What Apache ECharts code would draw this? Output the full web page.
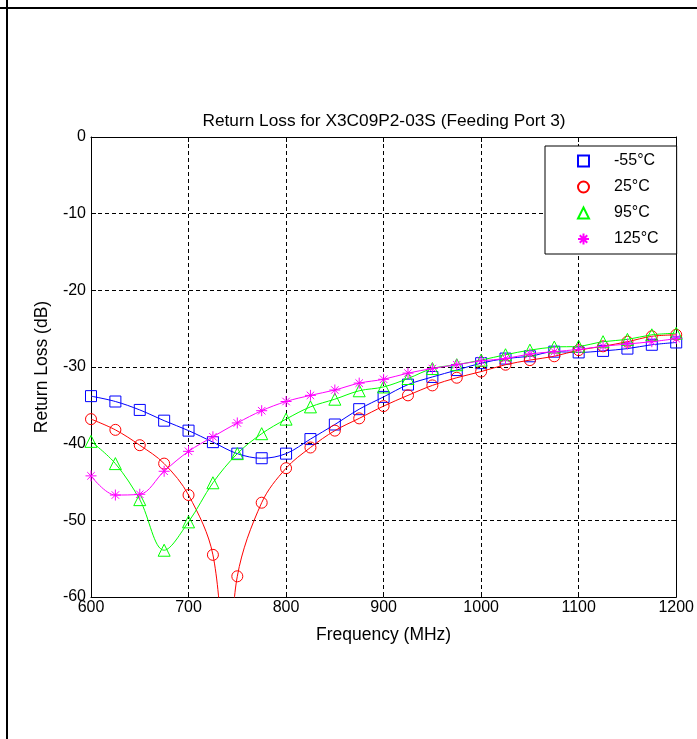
<!DOCTYPE html>
<html><head><meta charset="utf-8">
<script src="https://cdn.jsdelivr.net/npm/echarts@6/dist/echarts.min.js"></script>
<style>html,body{margin:0;padding:0;background:#fff;overflow:hidden}#c{width:697px;height:739px}</style>
</head><body><div id="c"></div>
<script>
// ---- data ----
const freqs = [600,625,650,675,700,725,750,775,800,825,850,875,900,925,950,975,1000,1025,1050,1075,1100,1125,1150,1175,1200];
const seriesNames = ['-55°C','25°C','95°C','125°C'];
const valsM55 = [-33.8,-34.5,-35.6,-37.0,-38.3,-39.8,-41.3,-41.9,-41.3,-39.4,-37.5,-35.5,-33.9,-32.3,-31.3,-30.4,-29.5,-28.9,-28.6,-28.0,-28.1,-27.9,-27.6,-27.1,-26.8];
const vals25  = [-36.8,-38.2,-40.2,-42.6,-46.7,-54.5,-57.3,-47.7,-43.2,-40.5,-38.3,-36.7,-35.1,-33.7,-32.4,-31.4,-30.6,-29.7,-29.1,-28.6,-27.8,-27.3,-26.7,-26.0,-25.8];
const vals95  = [-39.7,-42.6,-47.3,-53.9,-50.2,-45.1,-41.3,-38.7,-36.8,-35.2,-34.2,-33.1,-32.6,-31.5,-30.2,-29.7,-29.1,-28.4,-27.8,-27.4,-27.3,-26.7,-26.4,-25.8,-25.6];
const vals125 = [-44.2,-46.7,-46.6,-43.6,-41.0,-39.1,-37.3,-35.7,-34.5,-33.7,-33.0,-32.1,-31.6,-30.8,-30.2,-29.7,-29.2,-28.9,-28.3,-28.0,-27.7,-27.3,-27.0,-26.7,-26.3];
// estimated bottom of the 25°C curve, which runs below the -60 dB axis limit (clipped)
const dip25 = [[740, -72]];
const xMin = 600, xMax = 1200, xStep = 100;
const yMin = -60, yMax = 0, yStep = 10;

const colors = ['#0000ff','#ff0000','#00ff00','#ff00ff'];
const asterisk = 'path://M5,0 L5,10 M0,5 L10,5 M1.6,1.6 L8.4,8.4 M1.6,8.4 L8.4,1.6';
const symbols = ['rect','circle','triangle',asterisk];
const symSizes = [11,11,12,11];

function pts(vals, extra){
  const d = freqs.map((f,i)=>[f, vals[i]]);
  (extra||[]).forEach(p=>d.push({value:p, symbol:'none'}));
  d.sort((a,b)=>(a.value||a)[0]-(b.value||b)[0]);
  return d;
}
const allVals = [valsM55, vals25, vals95, vals125];
const extras = [null, dip25, null, null];

const series = allVals.map((v,i)=>({
  name: seriesNames[i],
  type: 'line',
  data: pts(v, extras[i]),
  smooth: 0.35,
  symbol: symbols[i],
  symbolSize: symSizes[i],
  showAllSymbol: true,
  clip: true,
  lineStyle: {color: colors[i], width: 1},
  itemStyle: {color: 'rgba(0,0,0,0)', borderColor: colors[i], borderWidth: 1},
  emphasis: {disabled: true},
  z: 3 + i
}));

const font = 'Arial, "Liberation Sans", sans-serif';
const axisCommon = {
  type: 'value',
  axisLine: {show: true, onZero: false, lineStyle: {color: '#000', width: 1}},
  axisTick: {show: true, inside: true, length: 5, lineStyle: {color: '#000'}},
};

const chart = echarts.init(document.getElementById('c'), null, {renderer: 'canvas', width: 697, height: 739});
chart.setOption({
  backgroundColor: '#fff',
  animation: false,
  title: {
    text: 'Return Loss for X3C09P2-03S (Feeding Port 3)',
    left: 379, top: 108, textAlign: 'center',
    textStyle: {fontFamily: font, fontSize: 17.3, fontWeight: 'normal', color: '#000'}
  },
  legend: {
    orient: 'vertical',
    left: 545, top: 146,
    padding: [7, 18, 7, 32],
    itemWidth: 11, itemHeight: 11, itemGap: 10,
    borderColor: '#000', borderWidth: 1, backgroundColor: '#fff',
    data: seriesNames.map((n,i)=>({name: n, icon: symbols[i]})),
    textStyle: {fontFamily: font, fontSize: 16, color: '#000', padding: [0,0,0,20]},
    selectedMode: false
  },
  grid: {left: 91, top: 137, width: 590, height: 460, containLabel: false},
  xAxis: [
    Object.assign({}, axisCommon, {
      min: xMin, max: xMax, interval: xStep, position: 'bottom',
      name: 'Frequency (MHz)', nameLocation: 'middle', nameGap: 29,
      nameTextStyle: {fontFamily: font, fontSize: 17.5, color: '#000'},
      axisLabel: {fontFamily: font, fontSize: 16, color: '#000', margin: 3, formatter: v => String(v)},
      splitLine: {show: true, lineStyle: {color: '#000', type: [4,3], width: 1}}
    }),
    Object.assign({}, axisCommon, {
      min: xMin, max: xMax, interval: xStep, position: 'top',
      axisLabel: {show: false}, splitLine: {show: false}
    })
  ],
  yAxis: [
    Object.assign({}, axisCommon, {
      min: yMin, max: yMax, interval: yStep, position: 'left',
      name: 'Return Loss (dB)', nameLocation: 'middle', nameGap: 40, nameRotate: 90,
      nameTextStyle: {fontFamily: font, fontSize: 17.5, color: '#000'},
      axisLabel: {fontFamily: font, fontSize: 16, color: '#000', margin: 5, formatter: v => String(v)},
      splitLine: {show: true, lineStyle: {color: '#000', type: [4,3], width: 1}}
    }),
    Object.assign({}, axisCommon, {
      min: yMin, max: yMax, interval: yStep, position: 'right',
      axisLabel: {show: false}, splitLine: {show: false}
    })
  ],
  series: series,
  graphic: [
    {type: 'line', shape: {x1: 0, y1: 8, x2: 697, y2: 8}, style: {stroke: '#000', lineWidth: 2}, silent: true},
    {type: 'line', shape: {x1: 7, y1: 0, x2: 7, y2: 739}, style: {stroke: '#000', lineWidth: 2}, silent: true}
  ]
});
</script>
</body></html>
